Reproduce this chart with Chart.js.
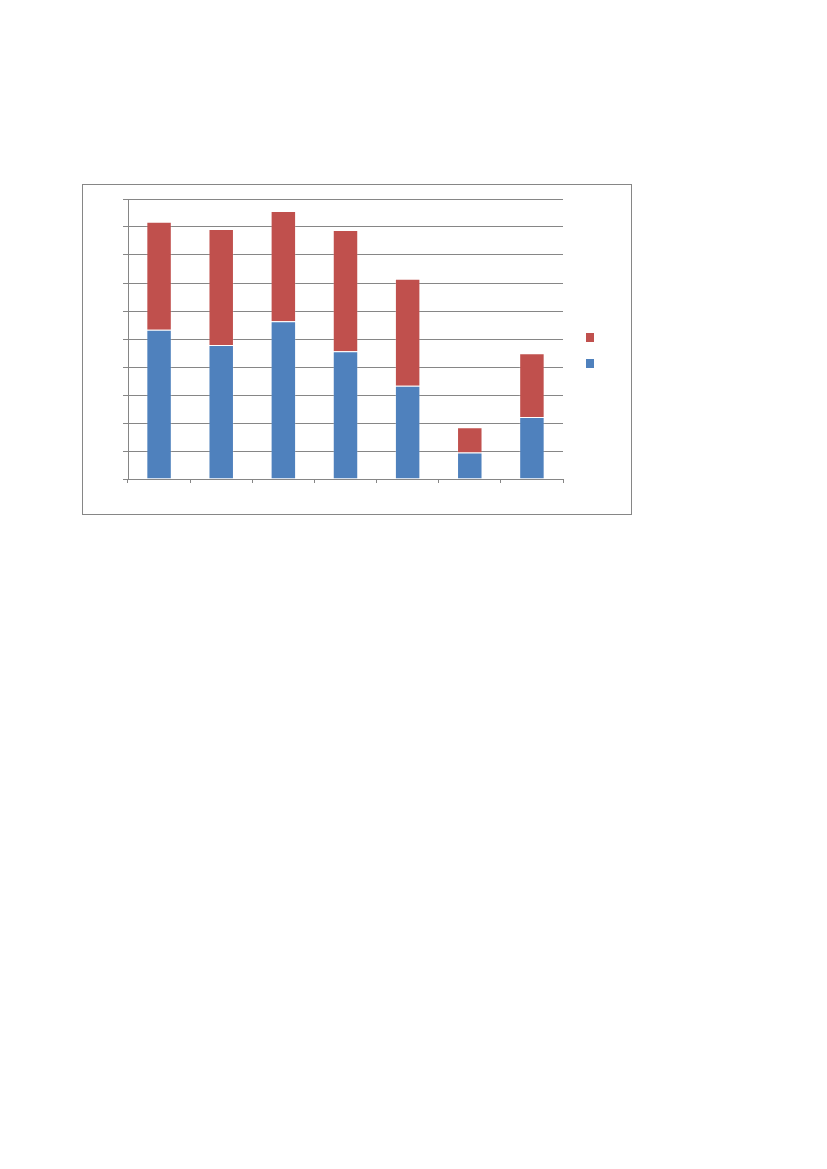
<!DOCTYPE html>
<html>
<head>
<meta charset="utf-8">
<script src="https://cdn.jsdelivr.net/npm/chart.js@4/dist/chart.umd.min.js"></script>
<style>
    html, body { margin: 0; padding: 0; background: #fff; }
    body { width: 827px; height: 1169px; position: relative; font-family: "Liberation Sans", Arial, sans-serif; }
    #frame {
        position: absolute; left: 82px; top: 184px;
        width: 548px; height: 329px;
        border: 1px solid #868686;
    }
</style>
</head>
<body>
<div id="frame"><canvas id="chart"></canvas></div>
<script>
// values, y scale 0..100 (gridline every 10)
const categories = ['1', '2', '3', '4', '5', '6', '7'];
const seriesLower = [53.3, 47.9, 56.3, 45.6, 33.3, 9.5, 22.1];
const seriesUpper = [38.6, 41.4, 39.4, 43.3, 38.2, 9.0, 22.8];
const yTicks = [0, 10, 20, 30, 40, 50, 60, 70, 80, 90, 100];

const gridColor = '#868686';

// small legend: two coloured squares, no text, right of the plot
const squareLegend = {
    id: 'squareLegend',
    afterDraw(chart) {
        const { ctx, chartArea } = chart;
        const x = chartArea.right + 23;
        const items = [chart.data.datasets[1], chart.data.datasets[0]];
        items.forEach((ds, i) => {
            const y = 148 + i * 26;
            ctx.fillStyle = ds.backgroundColor;
            ctx.fillRect(x, y, 8, 9);
        });
    }
};

const ctx = document.getElementById('chart').getContext('2d');
new Chart(ctx, {
    type: 'bar',
    data: {
        labels: categories,
        datasets: [
            { label: '', data: seriesLower, backgroundColor: '#4F81BD', borderColor: 'rgba(255,255,255,0.2)', borderWidth: 1 },
            { label: '', data: seriesUpper, backgroundColor: '#C0504D', borderColor: 'rgba(255,255,255,0.2)', borderWidth: 1 }
        ]
    },
    options: {
        responsive: true,
        maintainAspectRatio: false,
        animation: false,
        layout: { padding: { top: 14, right: 68, left: 0, bottom: 0 } },
        datasets: { bar: { barPercentage: 0.41, categoryPercentage: 1 } },
        plugins: {
            legend: { display: false },
            tooltip: { enabled: false }
        },
        scales: {
            x: {
                stacked: true,
                grid: { drawOnChartArea: false, drawTicks: true, tickLength: 4, color: gridColor, offset: true },
                border: { display: true, color: gridColor },
                ticks: { display: false },
                afterFit: s => { s.height = 35; }
            },
            y: {
                stacked: true,
                min: yTicks[0],
                max: yTicks[yTicks.length - 1],
                afterBuildTicks: s => { s.ticks = yTicks.map(v => ({ value: v })); },
                grid: { color: gridColor, drawTicks: true, tickLength: 5 },
                border: { display: true, color: gridColor },
                ticks: { display: false },
                afterFit: s => { s.width = 45; }
            }
        }
    },
    plugins: [squareLegend]
});
</script>
</body>
</html>
